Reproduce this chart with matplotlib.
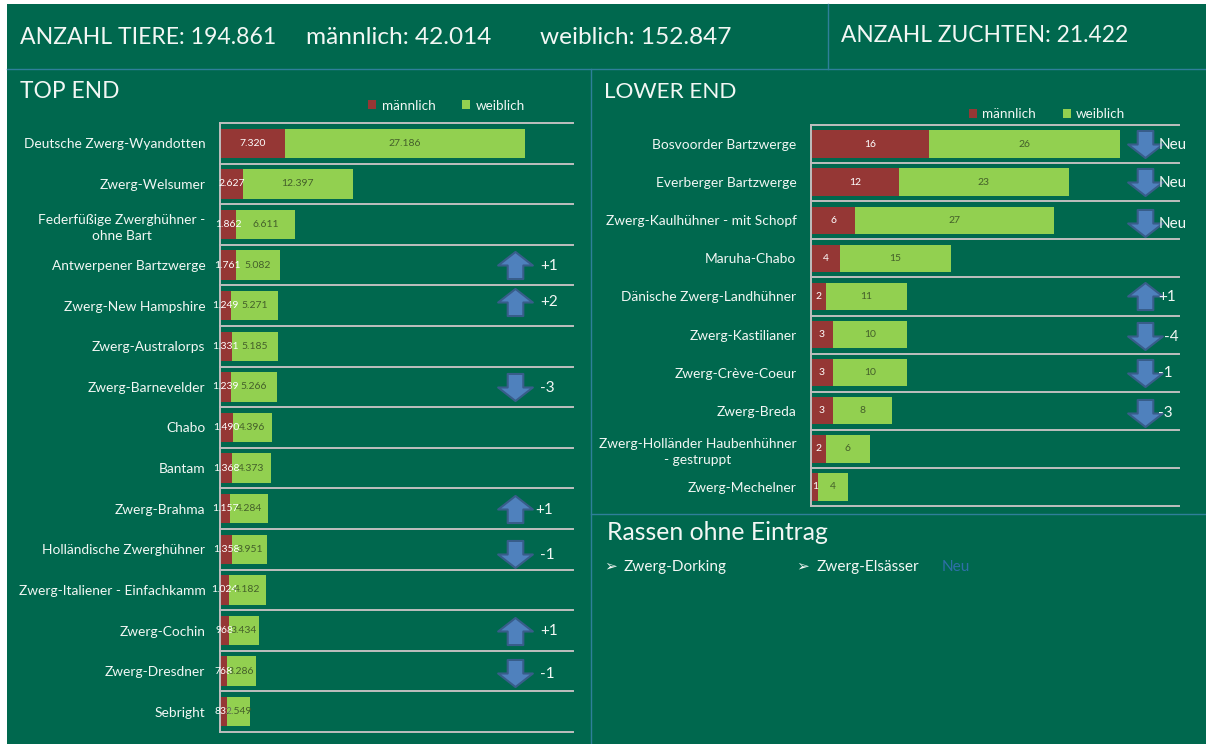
import matplotlib
matplotlib.use("Agg")
import matplotlib.pyplot as plt
from matplotlib.patches import Rectangle
from matplotlib.path import Path

plt.rcParams['font.family'] = ['Lato', 'DejaVu Sans']

top_names = ["Deutsche Zwerg-Wyandotten", "Zwerg-Welsumer", "Federfüßige Zwerghühner -\nohne Bart",
             "Antwerpener Bartzwerge", "Zwerg-New Hampshire", "Zwerg-Australorps", "Zwerg-Barnevelder",
             "Chabo", "Bantam", "Zwerg-Brahma", "Holländische Zwerghühner",
             "Zwerg-Italiener - Einfachkamm", "Zwerg-Cochin", "Zwerg-Dresdner", "Sebright"]
top_male = [7320, 2627, 1862, 1761, 1249, 1331, 1239, 1490, 1368, 1157, 1358, 1024, 968, 768, 832]
top_female = [27186, 12397, 6611, 5082, 5271, 5185, 5266, 4396, 4373, 4284, 3951, 4182, 3434, 3286, 2549]
top_change = ["", "", "", "+1", "+2", "", "-3", "", "", "+1", "-1", "", "+1", "-1", ""]

low_names = ["Bosvoorder Bartzwerge", "Everberger Bartzwerge", "Zwerg-Kaulhühner - mit Schopf",
             "Maruha-Chabo", "Dänische Zwerg-Landhühner", "Zwerg-Kastilianer", "Zwerg-Crève-Coeur",
             "Zwerg-Breda", "Zwerg-Holländer Haubenhühner\n- gestruppt", "Zwerg-Mechelner"]
low_male = [16, 12, 6, 4, 2, 3, 3, 3, 2, 1]
low_female = [26, 23, 27, 15, 11, 10, 10, 8, 6, 4]
low_change = ["Neu", "Neu", "Neu", "", "+1", "-4", "-1", "-3", "", ""]

W, H = 1206, 744
BG = "#00684E"
DIV = "#2F7F9A"
RED = "#953735"
GREEN = "#92D050"
GRID = "#BFBFBF"
FG = "#F2F7F4"

UP = Path([(0, .78), (1, 0), (.45, 0), (.45, -.78), (-.45, -.78), (-.45, 0), (-1, 0), (0, .78)], closed=True)
DOWN = Path([(0, -.78), (1, 0), (.45, 0), (.45, .78), (-.45, .78), (-.45, 0), (-1, 0), (0, -.78)], closed=True)


def fmt(v):
    return f"{v:,}".replace(",", ".")


def panel(box, names, male, female, change, xmax, arrow_x, text_x, legend_xy, nudge):
    x0, y0, x1, y1 = box
    ax = fig.add_axes([x0 / W, 1 - y1 / H, (x1 - x0) / W, (y1 - y0) / H])
    ax.patch.set_alpha(0)
    pos = list(range(len(names)))
    left = ax.barh(pos, male, height=0.72, color=RED, label="männlich")
    right = ax.barh(pos, female, left=male, height=0.72, color=GREEN, label="weiblich")
    ax.bar_label(left, labels=[fmt(v) for v in male], label_type="center", color="white", fontsize=7.5)
    ax.bar_label(right, labels=[fmt(v) for v in female], label_type="center", color="#44602A", fontsize=7.5)
    ax.set_xlim(0, xmax)
    ax.set_ylim(len(names) - .5, -.5)
    ax.set_yticks(pos, names, color=FG, fontsize=9.9, multialignment="center", linespacing=1.45)
    ax.set_yticks([p - .5 for p in pos] + [len(names) - .5], minor=True)
    ax.tick_params(axis="y", which="major", length=0, pad=10.5)
    ax.tick_params(axis="y", which="minor", length=0)
    ax.xaxis.set_visible(False)
    ax.grid(True, axis="y", which="minor", color=GRID, lw=1.4, clip_on=False)
    ax.grid(False, axis="y", which="major")
    ax.set_axisbelow(True)
    for s in ["top", "right", "bottom"]:
        ax.spines[s].set_visible(False)
    ax.spines["left"].set_color(GRID)
    ax.spines["left"].set_linewidth(1.4)
    # rank changes
    for i, c in enumerate(change):
        if c == "":
            continue
        y = i + nudge.get(i, 0)
        ax.plot(arrow_x, y, marker=DOWN if c[0] != "+" else UP, ms=25, mfc="#4F81BD", mec="#385D8A", mew=1.5,
                clip_on=False)
        ax.text(text_x.get(i, text_x[None]), y + .02, c, color=FG, fontsize=11, va="center", clip_on=False)
    ax.legend(loc="center", bbox_to_anchor=legend_xy, bbox_transform=bg.transData, ncol=2, frameon=False,
              fontsize=9.7, labelcolor=FG, handlelength=.6, handleheight=.6, handletextpad=.4, columnspacing=2.0,
              borderpad=0)
    return ax


fig = plt.figure(figsize=(W / 100, H / 100), dpi=100, facecolor="white")
bg = fig.add_axes([0, 0, 1, 1])
bg.set_xlim(0, W)
bg.set_ylim(H, 0)
bg.axis("off")
bg.add_patch(Rectangle((7, 4), W - 7, H - 4, color=BG, lw=0))
bg.plot([7, W], [69, 69], color=DIV, lw=1)
bg.plot([828, 828], [4, 69], color=DIV, lw=1)
bg.plot([591, 591], [69, H], color=DIV, lw=1)
bg.plot([591, W], [514, 514], color=DIV, lw=1)

bg.text(20, 38, "ANZAHL TIERE: 194.861", color=FG, fontsize=16.6, va="center")
bg.text(306, 38, "männlich: 42.014", color=FG, fontsize=17.6, va="center")
bg.text(540, 38, "weiblich: 152.847", color=FG, fontsize=17.6, va="center")
bg.text(841, 36, "ANZAHL ZUCHTEN: 21.422", color=FG, fontsize=16.4, va="center")
bg.text(20, 92, "TOP END", color=FG, fontsize=16.4, va="center")
bg.text(604, 92, "LOWER END", color=FG, fontsize=16.2, va="center")
bg.text(607, 533, "Rassen ohne Eintrag", color=FG, fontsize=17.8, va="center")
bg.text(604, 566, "➢", color=FG, fontsize=11, va="center")
bg.text(624, 567, "Zwerg-Dorking", color=FG, fontsize=11.1, va="center")
bg.text(796, 566, "➢", color=FG, fontsize=11, va="center")
bg.text(817, 567, "Zwerg-Elsässer", color=FG, fontsize=11.1, va="center")
bg.text(942, 567, "Neu", color="#2F6FA8", fontsize=11.1, va="center")

panel((220, 123, 573, 732), top_names, top_male, top_female, top_change, 40000, 33400,
      {None: 36300, 9: 35700}, (446.5, 105.5), {4: -.1, 10: .11, 13: .05})
panel((811, 125, 1179, 506), low_names, low_male, low_female, low_change, 50, 45.4,
      {None: 47.2, 5: 48}, (1047, 114), {2: .08, 5: .05, 7: .05})

fig.savefig("out.png", dpi=100)
